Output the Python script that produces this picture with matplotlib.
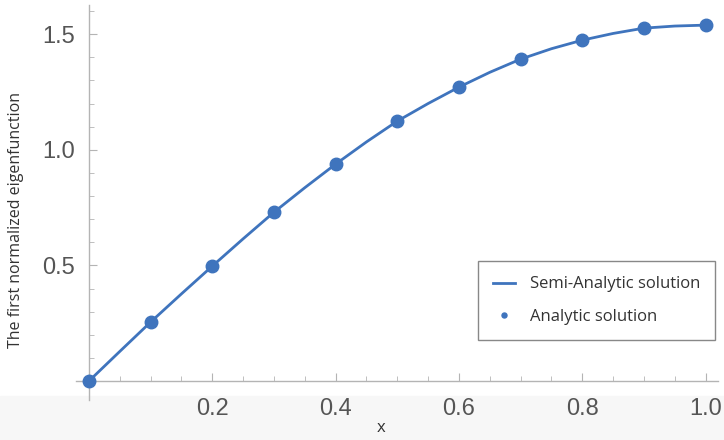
import matplotlib
matplotlib.use("Agg")
import matplotlib.pyplot as plt
from matplotlib.ticker import MultipleLocator, FixedLocator
from matplotlib.patches import Rectangle

# semi-analytic curve
x_curve = [0.0, 0.05, 0.1, 0.15, 0.2, 0.25, 0.3, 0.35, 0.4, 0.45, 0.5,
           0.55, 0.6, 0.65, 0.7, 0.75, 0.8, 0.85, 0.9, 0.95, 1.0]
y_curve = [0.0, 0.128, 0.255, 0.377, 0.497, 0.615, 0.730, 0.836, 0.938, 1.034, 1.124,
           1.200, 1.271, 1.335, 1.392, 1.437, 1.474, 1.503, 1.526, 1.535, 1.539]

# analytic points
x_pts = [0.0, 0.1, 0.2, 0.3, 0.4, 0.5, 0.6, 0.7, 0.8, 0.9, 1.0]
y_pts = [0.0, 0.255, 0.497, 0.730, 0.938, 1.124, 1.271, 1.392, 1.474, 1.526, 1.539]

xticks = [0.2, 0.4, 0.6, 0.8, 1.0]
yticks = [0.5, 1.0, 1.5]

blue = "#3f74bd"
axis_gray = "#b4b4b4"
label_gray = "#555555"

fig = plt.figure(figsize=(7.24, 4.40), dpi=100)
# faint scanner shading at the bottom
fig.patches.append(Rectangle((0, 0), 1, 0.1, transform=fig.transFigure,
                             color="#f7f7f7", zorder=-1))
ax = fig.add_axes([76/724, 1-400/440, (718-76)/724, (400-5)/440])
ax.patch.set_alpha(0)

ax.plot(x_curve, y_curve, color=blue, lw=2, label="Semi-Analytic solution", zorder=3)
ax.plot(x_pts, y_pts, "o", color=blue, ms=9, label="Analytic solution", zorder=4)

ax.set_xlim(-0.021, 1.02)
ax.set_ylim(-0.082, 1.626)

for s in ["top", "right"]:
    ax.spines[s].set_visible(False)
ax.spines["left"].set_position(("data", 0))
ax.spines["bottom"].set_position(("data", 0))
for s in ["left", "bottom"]:
    ax.spines[s].set_color(axis_gray)
    ax.spines[s].set_linewidth(1)

ax.xaxis.set_major_locator(FixedLocator(xticks))
ax.yaxis.set_major_locator(FixedLocator(yticks))
ax.xaxis.set_minor_locator(MultipleLocator(0.05))
ax.yaxis.set_minor_locator(MultipleLocator(0.1))
ax.tick_params(which="major", direction="in", length=6, color=axis_gray,
               labelsize=17, labelcolor=label_gray)
ax.tick_params(which="minor", direction="in", length=3.5, color=axis_gray)
ax.tick_params(axis="x", pad=12)
ax.tick_params(axis="y", pad=10)
for lab in ax.get_xticklabels() + ax.get_yticklabels():
    lab.set_fontfamily("Liberation Sans")

fig.text(0.527, 0.018, "x", fontsize=12, color="#333333", ha="center",
         family="Open Sans")
fig.text(0.022, 0.5, "The first normalized eigenfunction", rotation=90,
         fontsize=11.5, color="#333333", ha="center", va="center", family="Open Sans")

leg = ax.legend(loc="lower right", bbox_to_anchor=(715/724, 1-340/440),
                bbox_transform=fig.transFigure, fancybox=False,
                edgecolor="#888888", framealpha=1, borderaxespad=0,
                prop={"family": "Open Sans", "size": 12},
                handlelength=1.3, handletextpad=0.9, borderpad=0.9,
                labelspacing=1.0, markerscale=0.4)
leg.get_frame().set_linewidth(1)
for t in leg.get_texts():
    t.set_color("#333333")

fig.savefig("out.png", dpi=100)
